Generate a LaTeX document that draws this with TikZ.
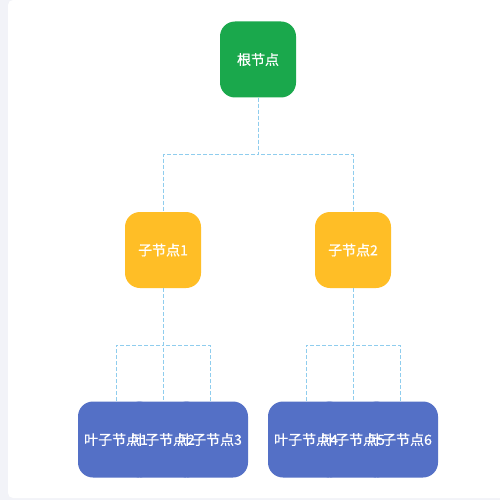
\documentclass[tikz,border=0pt]{standalone}
\usepackage{fontspec}
\setmainfont{Noto Sans CJK SC}
\newfontfamily\lblfont{Noto Sans CJK SC}[FakeBold=0.6]
\definecolor{bggray}{HTML}{F2F3F8}
\definecolor{rootgreen}{HTML}{1AA84C}
\definecolor{childyellow}{HTML}{FFBE26}
\definecolor{leafblue}{HTML}{5470C6}
\definecolor{linkblue}{HTML}{8FCDEE}
\tikzset{
  box/.style={rectangle, rounded corners=15pt, minimum width=76pt, minimum height=76pt, inner sep=0pt, draw=none},
  rootbox/.style={box, fill=rootgreen},
  childbox/.style={box, fill=childyellow},
  leafbox/.style={box, fill=leafblue},
  lbl/.style={text=white, font=\lblfont\fontsize{14pt}{16pt}\selectfont, inner sep=0pt},
  link/.style={draw=linkblue, dash pattern=on 4pt off 2pt, line width=1pt}
}
\begin{document}
\begin{tikzpicture}[x=1pt,y=-1pt]
\useasboundingbox (0,0) rectangle (500,500);
\begin{scope}
\clip (0,0) rectangle (500,500);
\fill[bggray] (0,0) rectangle (500,500);
\fill[white, rounded corners=5pt] (8,0) rectangle (520,498);
\end{scope}
% nodes
\node[rootbox] (root) at (258,59.5) {};
\node[childbox] (c1) at (163,250) {};
\node[childbox] (c2) at (353,250) {};
\node[leafbox] (l1) at (116,439.5) {};
\node[leafbox] (l2) at (163,439.5) {};
\node[leafbox] (l3) at (210,439.5) {};
\node[leafbox] (l4) at (306,439.5) {};
\node[leafbox] (l5) at (353,439.5) {};
\node[leafbox] (l6) at (400,439.5) {};
% labels
\node[lbl] (rt) at (root) {根节点};
\node[lbl] (c1t) at (c1) {子节点1};
\node[lbl] (c2t) at (c2) {子节点2};
\node[lbl] (l1t) at (l1) {叶子节点1};
\node[lbl] (l2t) at (l2) {叶子节点2};
\node[lbl] (l3t) at (l3) {叶子节点3};
\node[lbl] (l4t) at (l4) {叶子节点4};
\node[lbl] (l5t) at (l5) {叶子节点5};
\node[lbl] (l6t) at (l6) {叶子节点6};
% connectors
\draw[link] (root.south) -- ++(0,57) -| (c1.north);
\draw[link] (root.south) -- ++(0,57) -| (c2.north);
\draw[link] (c1.south) -- ++(0,57) -| (l1.north);
\draw[link] (c1.south) -- (l2.north);
\draw[link] (c1.south) -- ++(0,57) -| (l3.north);
\draw[link] (c2.south) -- ++(0,57) -| (l4.north);
\draw[link] (c2.south) -- (l5.north);
\draw[link] (c2.south) -- ++(0,57) -| (l6.north);
\end{tikzpicture}
\end{document}
